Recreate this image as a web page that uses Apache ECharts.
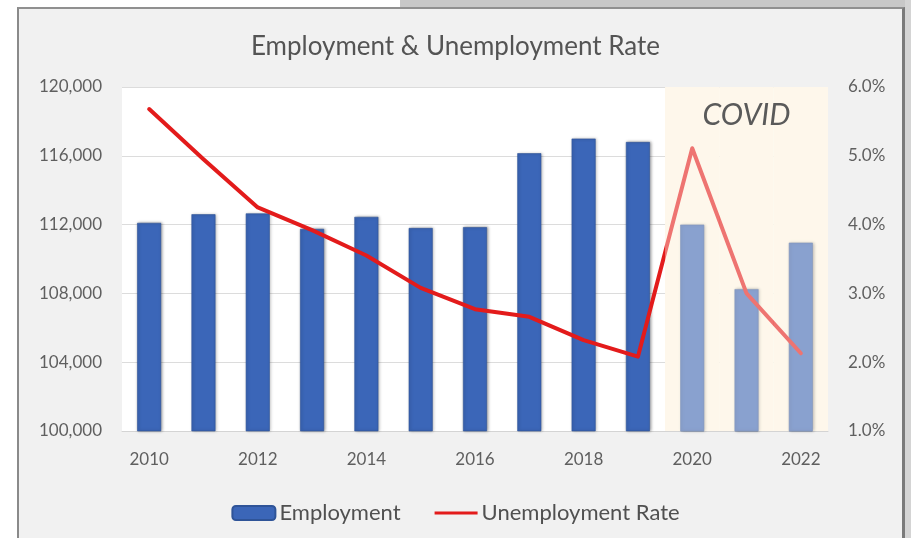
<!DOCTYPE html>
<html>
<head>
<meta charset="utf-8">
<script src="https://cdn.jsdelivr.net/npm/echarts@6/dist/echarts.min.js"></script>
<style>
  html, body { margin: 0; padding: 0; background: #ffffff; }
  #page { position: relative; width: 911px; height: 538px; overflow: hidden; background: #ffffff; }
  #strip { position: absolute; left: 400px; top: 0; width: 511px; height: 8px; background: #c8c8c8; }
  #edge { position: absolute; left: 905px; top: 0; width: 6px; height: 538px; background: #d4d4d4; }
  #frame { position: absolute; left: 17px; top: 7px; width: 883px; height: 540px;
           background: #f1f1f1; border-left: 2px solid #8a8a8a; border-top: 2px solid #909090;
           border-right: 3px solid #7a7a7a; }
  #chart { position: absolute; left: 0; top: 0; width: 911px; height: 538px; }
</style>
</head>
<body>
<div id="page">
  <div id="strip"></div>
  <div id="edge"></div>
  <div id="frame"></div>
  <div id="chart"></div>
</div>
<script>
// Years on the category axis
const years = ['2010', '2011', '2012', '2013', '2014', '2015', '2016',
               '2017', '2018', '2019', '2020', '2021', '2022'];
// Total employment (persons)
const employment = [112100, 112600, 112650, 111750, 112450, 111800, 111850,
                    116150, 117000, 116800, 112000, 108250, 110950];
// Unemployment rate (%)
const unemploymentRate = [5.68, 4.95, 4.25, 3.92, 3.55, 3.08, 2.77,
                          2.66, 2.32, 2.08, 5.11, 3.00, 2.13];
// Years falling in the COVID period (1 = shaded)
const covidPeriod = [null, null, null, null, null, null, null,
                     null, null, null, 1, 1, 1];
const covidLabelYear = '2021';

const axisFont = 'Lato';
const labelColor = '#5f5f5f';

const covidOverlay = covidPeriod.map((v, i) =>
  v === null ? null :
  (years[i] === covidLabelYear
    ? { value: v, label: { show: true, formatter: 'COVID', position: 'insideTop', distance: 13,
        fontFamily: 'Lato', fontStyle: 'italic', fontSize: 30, color: '#5a5a5a' } }
    : v));

const chart = echarts.init(document.getElementById('chart'), null, { renderer: 'canvas' });
chart.setOption({
  backgroundColor: 'transparent',
  animation: false,
  title: {
    text: 'Employment & Unemployment Rate',
    left: 'center',
    top: 29,
    textStyle: { fontFamily: 'Lato', fontSize: 26, fontWeight: 'normal', color: '#545454' }
  },
  legend: {
    data: [
      { name: 'Employment' },
      { name: 'Unemployment Rate',
        icon: 'path://M0,0 M0,5.5 L44,5.5 L44,8.5 L0,8.5 Z M44,14',
        itemStyle: { color: '#e31b1b' } }
    ],
    left: 'center',
    top: 497,
    itemWidth: 43,
    itemHeight: 14,
    itemGap: 34,
    textStyle: { fontFamily: axisFont, fontSize: 22, color: '#505050', padding: [0, 0, 0, -1] }
  },
  grid: {
    left: 122, right: 83, top: 87, bottom: 107,
    show: true, backgroundColor: '#ffffff', borderWidth: 0,
    containLabel: false, outerBoundsMode: 'none'
  },
  xAxis: [
    {
      type: 'category', data: years,
      axisLine: { lineStyle: { color: '#d4d4d4', width: 1 } },
      axisTick: { show: false },
      axisLabel: { interval: 1, margin: 20, fontFamily: axisFont, fontSize: 17, color: labelColor },
      z: 0
    },
    { type: 'category', data: years, show: false }
  ],
  yAxis: [
    {
      type: 'value', min: 100000, max: 120000, interval: 4000,
      axisLine: { show: false }, axisTick: { show: false },
      splitLine: { lineStyle: { color: '#dcdcdc', width: 1 } },
      axisLabel: { margin: 20, fontFamily: axisFont, fontSize: 17, color: labelColor,
        formatter: v => v.toLocaleString('en-US') }
    },
    {
      type: 'value', min: 1, max: 6, interval: 1,
      axisLine: { show: false }, axisTick: { show: false }, splitLine: { show: false },
      axisLabel: { margin: 20, fontFamily: axisFont, fontSize: 17, color: labelColor,
        formatter: v => v.toFixed(1) + '%' }
    },
    { type: 'value', min: 0, max: 1, show: false }
  ],
  series: [
    {
      // cream backdrop behind the COVID years
      name: 'covid-bg', type: 'bar', xAxisIndex: 1, yAxisIndex: 2,
      data: covidPeriod, barWidth: '100%', barGap: '-100%', z: 1, silent: true,
      itemStyle: { color: '#fdf6e6' }
    },
    {
      name: 'Employment', type: 'bar', data: employment, barWidth: 24, z: 2,
      itemStyle: { color: '#3b66b8', borderColor: '#2f5498', borderWidth: 0.6,
        shadowColor: 'rgba(0,0,0,0.35)', shadowBlur: 3, shadowOffsetX: 1, shadowOffsetY: 0 }
    },
    {
      name: 'Unemployment Rate', type: 'line', yAxisIndex: 1, data: unemploymentRate,
      symbol: 'none', smooth: false, z: 3,
      lineStyle: { color: '#e31b1b', width: 4, cap: 'round', join: 'round' },
      itemStyle: { color: '#e31b1b' }
    },
    {
      // translucent wash that fades the COVID years
      name: 'covid-wash', type: 'bar', xAxisIndex: 1, yAxisIndex: 2,
      data: covidOverlay, barWidth: '100%', barGap: '-100%', z: 4, silent: true,
      itemStyle: { color: 'rgba(255,251,243,0.40)' }
    }
  ]
});
</script>
</body>
</html>
